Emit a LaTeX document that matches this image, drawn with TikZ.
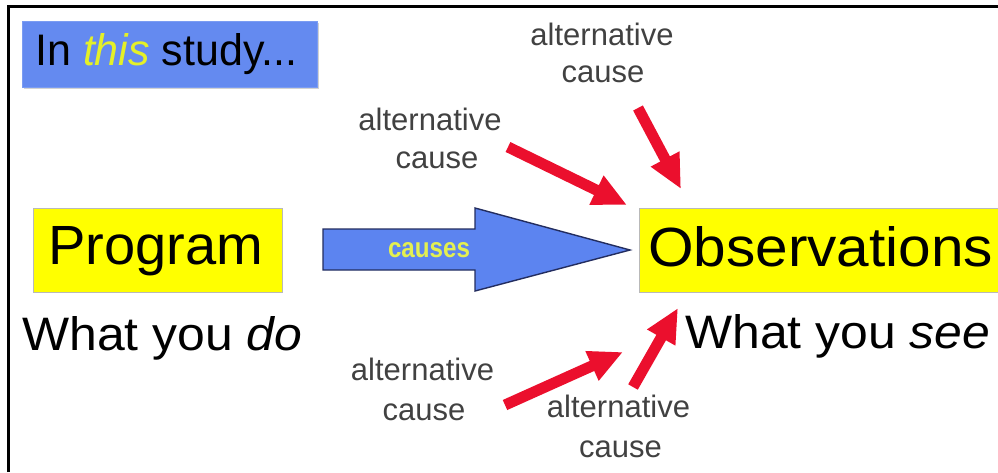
\documentclass[tikz,border=0pt]{standalone}
\usepackage{fontspec}
\setmainfont{Liberation Sans}
\usepackage{graphicx}
\usetikzlibrary{arrows.meta,calc}
\definecolor{boxblue}{RGB}{100,138,240}
\definecolor{arrowblue}{RGB}{92,132,240}
\definecolor{navyedge}{RGB}{35,45,95}
\definecolor{hiyellow}{RGB}{255,255,0}
\definecolor{thisyellow}{RGB}{228,240,40}
\definecolor{alarmred}{RGB}{235,15,45}
\definecolor{labelgray}{RGB}{65,65,65}
\definecolor{causeyellow}{RGB}{228,240,80}
\begin{document}
\begin{tikzpicture}[x=1pt,y=-1pt,
  yellowbox/.style={draw=gray!55,line width=0.8pt,fill=hiyellow,inner sep=0pt},
  bigtext/.style={anchor=base west,inner sep=0pt,text=black},
  altlabel/.style={anchor=base,inner sep=0pt,text=labelgray,font=\fontsize{31}{37}\selectfont},
  redarrow/.style={draw=alarmred,line width=11pt,-{Triangle[length=34pt,width=30pt]}},
]
\useasboundingbox (0,0) rectangle (998,472);
% frame
\draw[line width=3pt] (8.5,472) -- (8.5,6.5) -- (998,6.5);
% study box
\fill[gray!35] (24,23) rectangle (319,89);
\node (studybox) [fill=boxblue,draw=boxblue!85!white,line width=0.6pt,minimum width=295pt,minimum height=66pt,inner sep=0pt] at (169.5,54) {};
\node (studytext) [bigtext] at (35,65) {\resizebox{262pt}{32pt}{In \textcolor{thisyellow}{\itshape this} study...}};
% program
\node (prog) [yellowbox,minimum width=249pt,minimum height=84pt] at (157.5,250) {};
\node (progtext) [bigtext] at (48,264) {\resizebox{215pt}{38pt}{Program}};
\node (dotext) [bigtext] at (22,350) {\resizebox{280pt}{34pt}{What you \textit{do}}};
% observations
\node (obs) [yellowbox,minimum width=366pt,minimum height=84pt] at (822,250) {};
\node (obstext) [bigtext] at (648,266) {\resizebox{345pt}{40pt}{Observations}};
\node (seetext) [bigtext] at (685,348) {\resizebox{305pt}{34pt}{What you \textit{see}}};
% blue arrow
\coordinate (btail) at (323,250);
\coordinate (btip) at (630,250);
\draw[fill=arrowblue,draw=navyedge,line width=1.4pt,line join=miter]
  ($(btail)+(0,-21)$) -- ($(btail)+(152,-21)$) -- ($(btail)+(152,-42)$) -- (btip)
  -- ($(btail)+(152,41)$) -- ($(btail)+(152,20)$) -- ($(btail)+(0,20)$) -- cycle;
\node (causes) [inner sep=0pt,text=causeyellow] at (429,250.5) {\resizebox{82pt}{15pt}{\bfseries causes}};
% red arrows
\coordinate (t1) at (508,147); \coordinate (h1) at (627,205);
\coordinate (t2) at (638,108); \coordinate (h2) at (681,189);
\coordinate (t3) at (505,405); \coordinate (h3) at (623,352);
\coordinate (t4) at (633,387); \coordinate (h4) at (678,308);
\draw[redarrow] (t1) -- (h1);
\draw[redarrow] (t2) -- (h2);
\draw[redarrow] (t3) -- (h3);
\draw[redarrow] (t4) -- (h4);
% labels
\node (a1) [altlabel] at (602,45) {alternative};
\node (c1) [altlabel] at (603,82) {cause};
\node (a2) [altlabel] at (430,130) {alternative};
\node (c2) [altlabel] at (437,168) {cause};
\node (a3) [altlabel] at (422.5,380) {alternative};
\node (c3) [altlabel] at (424,420) {cause};
\node (a4) [altlabel] at (618.5,417) {alternative};
\node (c4) [altlabel] at (620.5,457) {cause};
\end{tikzpicture}
\end{document}
